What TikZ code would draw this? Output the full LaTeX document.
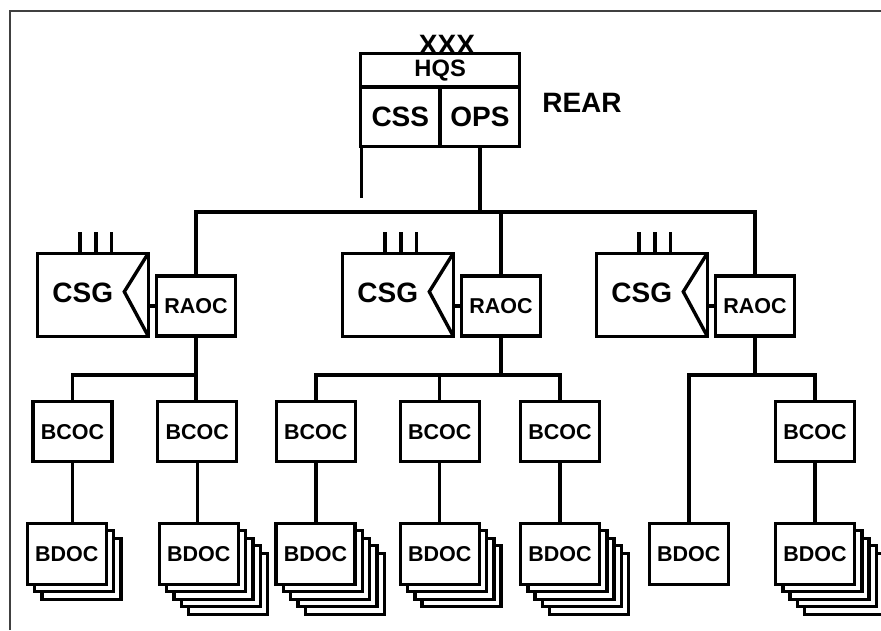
\documentclass[tikz,border=0pt]{standalone}
\usepackage{fontspec}
\setmainfont{Liberation Sans}
\usetikzlibrary{backgrounds}
\begin{document}
\begin{tikzpicture}[x=1pt,y=-1pt,
  ln/.style={line width=3.4pt},
  box/.style={draw,line width=3.4pt,fill=white,inner sep=0pt,outer sep=0pt,minimum width=79pt,minimum height=60pt,font=\fontsize{21.5}{24}\selectfont\bfseries},
  big/.style={font=\fontsize{28}{32}\selectfont\bfseries,inner sep=0pt},
  layerbox/.style={draw,line width=3.4pt,fill=white},
  framel/.style={draw=black!75,line width=2.5pt}
]
\useasboundingbox (0,0) rectangle (881,630);
\draw[framel] (10,630) -- (10,10.8) -- (881,10.8);

% headquarters
\node[box,minimum width=159pt,minimum height=33.7pt,font=\fontsize{23.7}{26}\selectfont\bfseries] (hqs) at (440.15,70.2) {HQS};
\node[box,big,minimum width=79.3pt,minimum height=59.7pt] (css) at (400.3,116.8) {CSS};
\node[box,big,minimum width=79.3pt,minimum height=59.7pt] (ops) at (480,116.8) {OPS};
\node[big,anchor=base] (xxx) at (447,54) {XXX};
\node[big] (rear) at (582,103) {REAR};
\coordinate (hqsleg) at (361.7,198);
\coordinate (busy) at (0,212);
\coordinate (suby) at (0,375);

% groups
\foreach \n/\x in {A/196,B/501,C/755} {
  \node[box] (raoc\n) at (\x,306) {RAOC};
  \node[box,minimum width=111pt,minimum height=83pt] (csg\n) at (\x-103.2,294.7) {};
  \node[big] (csgt\n) at ([xshift=-10pt,yshift=1.7pt]csg\n.center) {CSG};
  \draw[ln] (csg\n.north east) -- ([xshift=-24pt,yshift=3pt]csg\n.east) -- (csg\n.south east);
  \foreach \t in {-12.8,3.2,18.9} \draw[ln] ([xshift=\t pt]csg\n.north) -- ++(0,-21.3);
  \draw[ln] (raoc\n.west) -- (csg\n.east |- raoc\n.west);
}

% BCOC
\node[box] (bcocA) at (72.5,431.7) {BCOC};
\node[box] (bcocB) at (197.2,431.7) {BCOC};
\node[box] (bcocC) at (315.8,431.7) {BCOC};
\node[box] (bcocD) at (439.7,431.7) {BCOC};
\node[box] (bcocE) at (560,431.7) {BCOC};
\node[box] (bcocG) at (815,431.7) {BCOC};

% BDOC
\node[box,minimum height=61pt] (bdocA) at (66.7,553.7) {BDOC};
\node[box,minimum height=61pt] (bdocB) at (198.8,553.7) {BDOC};
\node[box,minimum height=61pt] (bdocC) at (315.5,553.7) {BDOC};
\node[box,minimum height=61pt] (bdocD) at (439.7,553.7) {BDOC};
\node[box,minimum height=61pt] (bdocE) at (560,553.7) {BDOC};
\node[box,minimum height=61pt] (bdocF) at (688.8,553.7) {BDOC};
\node[box,minimum height=61pt] (bdocG) at (815,553.7) {BDOC};

\begin{scope}[on background layer]
\foreach \n/\c in {A/2,B/4,C/4,D/3,E/4,G/4} {
  \foreach \k in {\c,...,1} {
    \draw[layerbox] ([shift={(\k*7.3,\k*7.5)}]bdoc\n.north west) rectangle ([shift={(\k*7.3,\k*7.5)}]bdoc\n.south east);
  }
}
\end{scope}

% connectors top
\draw[ln] (hqsleg |- css.south) -- (hqsleg);
\draw[ln] (ops.south) -- (ops.south |- busy);
\draw[ln] (raocA.north) -- (raocA.north |- busy) -- (raocC.north |- busy) -- (raocC.north);
\draw[ln] (raocB.north) -- (raocB.north |- busy);

% left group
\draw[ln] (bcocA.north) -- (bcocA.north |- suby) -- (raocA.south |- suby);
\draw[ln] (raocA.south) -- (bcocB.north -| raocA.south);
% middle group
\draw[ln] (bcocC.north) -- (bcocC.north |- suby) -- (bcocE.north |- suby) -- (bcocE.north);
\draw[ln] (raocB.south) -- (raocB.south |- suby);
\draw[ln] (bcocD.north) -- (bcocD.north |- suby);
% right group
\draw[ln] (bdocF.north) -- (bdocF.north |- suby) -- (bcocG.north |- suby) -- (bcocG.north);
\draw[ln] (raocC.south) -- (raocC.south |- suby);

% BCOC to BDOC
\foreach \n in {A,B,C,D,E,G} \draw[ln] (bcoc\n.south) -- (bcoc\n.south |- bdoc\n.north);
\end{tikzpicture}
\end{document}
